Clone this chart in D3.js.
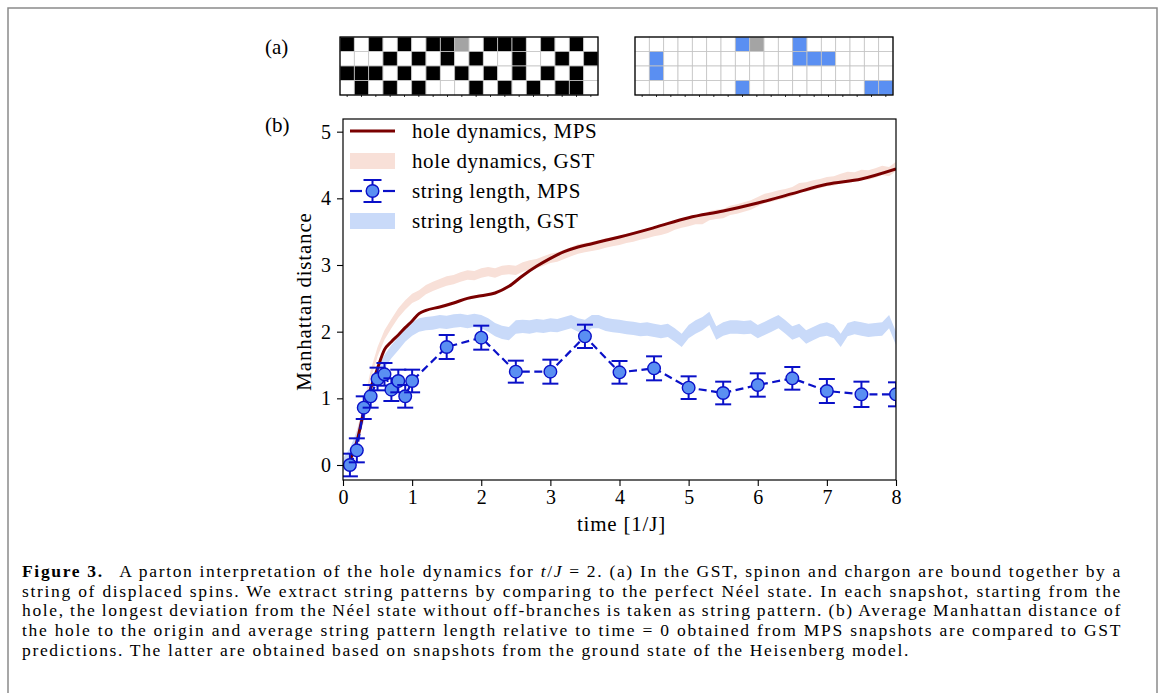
<!DOCTYPE html>
<html>
<head>
<meta charset="utf-8">
<script src="https://cdn.jsdelivr.net/npm/d3@7"></script>
<style>
body { margin: 0; background: #fff; }
svg text { font-family: "Liberation Serif", "DejaVu Serif", serif; fill: #000; }
</style>
</head>
<body>
<svg id="fig" width="1163" height="693"></svg>
<script>
//Panel (a) left: MPS snapshot, 1 = black spin, 0 = white spin, h = hole
var snapshotRows = [
    "10101011h011101010",
    "000101010100100101",
    "111010101010101010",
    "010101000101010110"
];
//Panel (a) right: extracted string pattern, b = string site, h = hole
var stringRows = [
    "0000000bh00b000000",
    "0b000000000bbb0000",
    "0b0000000000000000",
    "0000000b00000000bb"
];

//Panel (b) data
var mpsHoleTime = [0, 0.1, 0.2, 0.3, 0.4, 0.5, 0.6, 0.7, 0.8, 0.9, 1.0, 1.1, 1.2, 1.4, 1.6, 1.8, 2.0, 2.2, 2.4, 2.6, 2.8, 3.0, 3.2, 3.4, 3.6, 3.8, 4.0, 4.5, 5.0, 5.5, 6.0, 6.5, 7.0, 7.5, 8.0];
var mpsHoleDist = [0, 0.08, 0.35, 0.8, 1.15, 1.45, 1.73, 1.85, 1.95, 2.06, 2.16, 2.27, 2.32, 2.37, 2.43, 2.5, 2.54, 2.58, 2.68, 2.84, 2.98, 3.1, 3.2, 3.27, 3.32, 3.37, 3.42, 3.56, 3.71, 3.81, 3.93, 4.07, 4.21, 4.29, 4.44];

var gstTime = [0, 0.1, 0.2, 0.3, 0.4, 0.5, 0.6, 0.7, 0.8, 0.9, 1.0, 1.1, 1.2, 1.3, 1.4, 1.5, 1.6, 1.7, 1.8, 1.9,
    2.0, 2.1, 2.2, 2.3, 2.4, 2.5, 2.6, 2.7, 2.8, 2.9, 3.0, 3.1, 3.2, 3.3, 3.4, 3.5, 3.6, 3.7, 3.8, 3.9,
    4.0, 4.1, 4.2, 4.3, 4.4, 4.5, 4.6, 4.7, 4.8, 4.9, 5.0, 5.1, 5.2, 5.3, 5.4, 5.5, 5.6, 5.7, 5.8, 5.9,
    6.0, 6.1, 6.2, 6.3, 6.4, 6.5, 6.6, 6.7, 6.8, 6.9, 7.0, 7.1, 7.2, 7.3, 7.4, 7.5, 7.6, 7.7, 7.8, 7.9, 8.0];
var gstHoleDist = [0, 0.15, 0.45, 0.85, 1.35, 1.7, 1.95, 2.12, 2.28, 2.4, 2.5, 2.55, 2.63, 2.68, 2.72, 2.76, 2.78, 2.82, 2.85, 2.84,
    2.88, 2.9, 2.88, 2.92, 2.93, 2.92, 2.97, 3.0, 3.02, 3.06, 3.1, 3.12, 3.16, 3.2, 3.24, 3.26, 3.28, 3.3, 3.33, 3.35,
    3.37, 3.4, 3.42, 3.45, 3.47, 3.5, 3.52, 3.55, 3.6, 3.63, 3.65, 3.68, 3.68, 3.74, 3.76, 3.77, 3.82, 3.84, 3.87, 3.9,
    3.95, 4.0, 4.02, 4.05, 4.07, 4.1, 4.16, 4.17, 4.2, 4.22, 4.25, 4.26, 4.3, 4.33, 4.32, 4.36, 4.35, 4.38, 4.42, 4.4, 4.48];
var gstStringLen = [0, 0.15, 0.4, 0.75, 1.1, 1.35, 1.55, 1.7, 1.82, 1.95, 2.04, 2.1, 2.12, 2.13, 2.15, 2.14, 2.16, 2.17, 2.15, 2.17,
    2.15, 2.1, 2.03, 1.99, 1.97, 2.07, 2.08, 2.07, 2.09, 2.08, 2.1, 2.09, 2.12, 2.15, 2.1, 2.08, 2.15, 2.15, 2.11, 2.09,
    2.08, 2.06, 2.05, 2.03, 2.04, 2.02, 2.0, 2.02, 1.95, 1.87, 2.0, 2.07, 2.12, 2.2, 1.98, 2.04, 2.07, 2.07, 2.06, 2.07,
    2.0, 2.05, 2.1, 2.15, 2.07, 1.98, 2.02, 1.92, 1.97, 2.02, 2.04, 2.0, 1.87, 2.03, 2.06, 2.04, 2.02, 2.03, 2.04, 2.15, 1.9];

var mpsStringTime = [0.1, 0.2, 0.3, 0.4, 0.5, 0.6, 0.7, 0.8, 0.9, 1.0, 1.5, 2.0, 2.5, 3.0, 3.5, 4.0, 4.5, 5.0, 5.5, 6.0, 6.5, 7.0, 7.5, 8.0];
var mpsStringLen = [0, 0.22, 0.86, 1.03, 1.29, 1.36, 1.13, 1.26, 1.03, 1.26, 1.77, 1.91, 1.4, 1.4, 1.93, 1.39, 1.45, 1.16, 1.08, 1.2, 1.3, 1.11, 1.06, 1.06];
var mpsStringErr = [0.17, 0.18, 0.17, 0.17, 0.17, 0.17, 0.17, 0.17, 0.17, 0.17, 0.18, 0.18, 0.165, 0.18, 0.175, 0.17, 0.18, 0.17, 0.17, 0.175, 0.17, 0.18, 0.19, 0.18];

var yTicks = [0, 1, 2, 3, 4, 5];
var xTicks = [0, 1, 2, 3, 4, 5, 6, 7, 8];

var legendLabels = ["hole dynamics, MPS", "hole dynamics, GST", "string length, MPS", "string length, GST"];

var captionLines = [
    "A parton interpretation of the hole dynamics for ",
    "string of displaced spins. We extract string patterns by comparing to the perfect Néel state. In each snapshot, starting from the",
    "hole, the longest deviation from the Néel state without off-branches is taken as string pattern. (b) Average Manhattan distance of",
    "the hole to the origin and average string pattern length relative to time = 0 obtained from MPS snapshots are compared to GST",
    "predictions. The latter are obtained based on snapshots from the ground state of the Heisenberg model."
];

var colHole = "#7a0000";
var colHoleBand = "rgb(248,224,216)";
var colStringBand = "rgb(201,218,249)";
var colMarker = "#5a8ff2";
var colEdge = "#0a10c8";

var svg = d3.select("#fig");

//Outer figure frame
svg.append("path")
    .attr("d", "M8,700 L8,8 L1157,8 L1157,700")
    .attr("fill", "none")
    .attr("stroke", "#8a8a8a")
    .attr("stroke-width", 1.5);

//Panel (a) grids
function drawGrid(rows, x0, colorFn) {
    var cols = d3.range(rows[0].length);
    var xs = d3.scaleBand().domain(cols).range([x0, x0 + 258]);
    var ys = d3.scaleBand().domain(d3.range(rows.length)).range([37, 95]);
    var g = svg.append("g");
    rows.forEach(function (row, r) {
        g.selectAll(null)
            .data(row.split(""))
            .enter()
            .append("rect")
            .attr("x", function (d, c) { return xs(c); })
            .attr("y", ys(r))
            .attr("width", xs.bandwidth())
            .attr("height", ys.bandwidth())
            .attr("fill", colorFn)
            .attr("stroke", "#c4c4c4")
            .attr("stroke-width", 0.8);
    });
    g.append("rect")
        .attr("x", x0).attr("y", 37)
        .attr("width", 258).attr("height", 58)
        .attr("fill", "none")
        .attr("stroke", "#000")
        .attr("stroke-width", 1.3);
    //tiny ticks under the grid
    g.selectAll(null)
        .data(cols)
        .enter()
        .append("line")
        .attr("x1", function (c) { return xs(c) + xs.bandwidth() / 2; })
        .attr("x2", function (c) { return xs(c) + xs.bandwidth() / 2; })
        .attr("y1", 95).attr("y2", 97)
        .attr("stroke", "#000").attr("stroke-width", 0.8);
}

drawGrid(snapshotRows, 340, function (d) {
    if (d === "h") return "#a4a4a4";
    return d === "1" ? "#000" : "#fff";
});
drawGrid(stringRows, 635, function (d) {
    if (d === "h") return "#a4a4a4";
    return d === "b" ? "#5a8ff2" : "#fff";
});

svg.append("text").attr("x", 265).attr("y", 54).attr("font-size", "21px").text("(a)");
svg.append("text").attr("x", 265).attr("y", 132).attr("font-size", "21px").text("(b)");

//Panel (b) plot
var plotL = 343, plotR = 896, plotT = 119, plotB = 480;
var x = d3.scaleLinear().domain([0, 8]).range([plotL, plotR]);
var y = d3.scaleLinear().domain([-0.225, 5.19]).range([plotB, plotT]);

var plot = svg.append("g");
plot.append("clipPath").attr("id", "clip")
    .append("rect")
    .attr("x", plotL).attr("y", plotT)
    .attr("width", plotR - plotL).attr("height", plotB - plotT);

var inner = plot.append("g").attr("clip-path", "url(#clip)");

var holeBand = d3.area()
    .x(function (d, i) { return x(gstTime[i]); })
    .y0(function (d) { return y(d - 0.07); })
    .y1(function (d) { return y(d + 0.07); });
var stringBand = d3.area()
    .x(function (d, i) { return x(gstTime[i]); })
    .y0(function (d) { return y(d - 0.1); })
    .y1(function (d) { return y(d + 0.1); });

inner.append("path")
    .attr("d", holeBand(gstHoleDist))
    .attr("fill", colHoleBand);
inner.append("path")
    .attr("d", stringBand(gstStringLen))
    .attr("fill", colStringBand);

var holeLine = d3.line()
    .x(function (d, i) { return x(mpsHoleTime[i]); })
    .y(function (d) { return y(d); })
    .curve(d3.curveMonotoneX);
inner.append("path")
    .attr("d", holeLine(mpsHoleDist))
    .attr("fill", "none")
    .attr("stroke", colHole)
    .attr("stroke-width", 3);

var stringLine = d3.line()
    .x(function (d, i) { return x(mpsStringTime[i]); })
    .y(function (d) { return y(d); });
inner.append("path")
    .attr("d", stringLine(mpsStringLen))
    .attr("fill", "none")
    .attr("stroke", colEdge)
    .attr("stroke-width", 2.2)
    .attr("stroke-dasharray", "8,4.5");

var bars = inner.selectAll("g.err")
    .data(mpsStringLen)
    .enter()
    .append("g")
    .attr("class", "err");
bars.append("line")
    .attr("x1", function (d, i) { return x(mpsStringTime[i]); })
    .attr("x2", function (d, i) { return x(mpsStringTime[i]); })
    .attr("y1", function (d, i) { return y(d - mpsStringErr[i]); })
    .attr("y2", function (d, i) { return y(d + mpsStringErr[i]); })
    .attr("stroke", colEdge).attr("stroke-width", 2);
[-1, 1].forEach(function (s) {
    bars.append("line")
        .attr("x1", function (d, i) { return x(mpsStringTime[i]) - 8; })
        .attr("x2", function (d, i) { return x(mpsStringTime[i]) + 8; })
        .attr("y1", function (d, i) { return y(d + s * mpsStringErr[i]); })
        .attr("y2", function (d, i) { return y(d + s * mpsStringErr[i]); })
        .attr("stroke", colEdge).attr("stroke-width", 2);
});
bars.append("circle")
    .attr("cx", function (d, i) { return x(mpsStringTime[i]); })
    .attr("cy", function (d) { return y(d); })
    .attr("r", 6.3)
    .attr("fill", colMarker)
    .attr("stroke", colEdge)
    .attr("stroke-width", 1.4);

//Axes
var yAxis = plot.append("g")
    .attr("transform", "translate(" + plotL + ",0)")
    .call(d3.axisLeft(y).tickValues(yTicks).tickSize(6).tickPadding(6).tickFormat(d3.format("d")));
var xAxis = plot.append("g")
    .attr("transform", "translate(0," + plotB + ")")
    .call(d3.axisBottom(x).tickValues(xTicks).tickSize(6).tickPadding(4).tickFormat(d3.format("d")));
[yAxis, xAxis].forEach(function (a) {
    a.select(".domain").remove();
    a.selectAll("line").attr("stroke", "#000").attr("stroke-width", 1.1);
    a.selectAll("text").attr("font-size", "20px").attr("font-family", "Liberation Serif, serif");
});

plot.append("rect")
    .attr("x", plotL).attr("y", plotT)
    .attr("width", plotR - plotL).attr("height", plotB - plotT)
    .attr("fill", "none")
    .attr("stroke", "#000")
    .attr("stroke-width", 1.2);

plot.append("text")
    .attr("transform", "translate(311," + ((plotT + plotB) / 2 + 2) + ") rotate(-90)")
    .attr("text-anchor", "middle")
    .attr("font-size", "21px")
    .attr("letter-spacing", "0.8px")
    .text("Manhattan distance");
plot.append("text")
    .attr("x", (plotL + plotR) / 2 + 2)
    .attr("y", 531)
    .attr("text-anchor", "middle")
    .attr("font-size", "21px")
    .attr("letter-spacing", "0.8px")
    .text("time [1/J]");

//Legend
var legend = svg.append("g").attr("transform", "translate(350,131)");
var rowGap = 30;
legend.append("line")
    .attr("x1", 0).attr("x2", 45).attr("y1", 0).attr("y2", 0)
    .attr("stroke", colHole).attr("stroke-width", 3);
legend.append("rect")
    .attr("x", 0).attr("y", rowGap - 8).attr("width", 45).attr("height", 16)
    .attr("fill", colHoleBand);
var lg = legend.append("g").attr("transform", "translate(0," + 2 * rowGap + ")");
lg.append("line").attr("x1", 0).attr("x2", 12).attr("y1", 0).attr("y2", 0)
    .attr("stroke", colEdge).attr("stroke-width", 2.2);
lg.append("line").attr("x1", 33).attr("x2", 45).attr("y1", 0).attr("y2", 0)
    .attr("stroke", colEdge).attr("stroke-width", 2.2);
lg.append("line").attr("x1", 22.5).attr("x2", 22.5).attr("y1", -11).attr("y2", 11)
    .attr("stroke", colEdge).attr("stroke-width", 2);
[-11, 11].forEach(function (dy) {
    lg.append("line").attr("x1", 13.5).attr("x2", 31.5).attr("y1", dy).attr("y2", dy)
        .attr("stroke", colEdge).attr("stroke-width", 2);
});
lg.append("circle").attr("cx", 22.5).attr("cy", 0).attr("r", 6.3)
    .attr("fill", colMarker).attr("stroke", colEdge).attr("stroke-width", 1.4);
legend.append("rect")
    .attr("x", 0).attr("y", 3 * rowGap - 8).attr("width", 45).attr("height", 16)
    .attr("fill", colStringBand);
legend.selectAll("text.lab")
    .data(legendLabels)
    .enter()
    .append("text")
    .attr("class", "lab")
    .attr("x", 62)
    .attr("y", function (d, i) { return i * rowGap + 6.5; })
    .attr("font-size", "21px")
    .attr("letter-spacing", "0.6px")
    .text(function (d) { return d; });

//Caption: letter spacing set so the last (unjustified) line ends where it does,
//the other lines are justified through word spacing
var cap = svg.append("g").attr("font-size", "17.5px");
var capY = [577, 596.7, 616.4, 636.1, 655.8];
var probe = cap.append("text").text(captionLines[4]);
var capTrack = (888 - probe.node().getComputedTextLength()) / captionLines[4].length;
probe.remove();
cap.attr("letter-spacing", capTrack + "px");

var line1 = cap.append("text").attr("x", 22).attr("y", capY[0]);
line1.append("tspan").attr("font-weight", "bold").text("Figure 3.");
line1.append("tspan").text("\u2002 " + captionLines[0]);
line1.append("tspan").attr("font-style", "italic").text("t");
line1.append("tspan").text("/");
line1.append("tspan").attr("font-style", "italic").text("J");
line1.append("tspan").text(" = 2. (a) In the GST, spinon and chargon are bound together by a");
captionLines.slice(1).forEach(function (t, i) {
    cap.append("text")
        .attr("x", 22)
        .attr("y", capY[i + 1])
        .text(t);
});
cap.selectAll("text").each(function (d, i) {
    if (i === 4) return;
    var node = d3.select(this);
    var spaces = node.text().split(" ").length - 1;
    var extra = (1100 - this.getComputedTextLength()) / spaces;
    node.attr("word-spacing", extra + "px");
});
</script>
</body>
</html>
